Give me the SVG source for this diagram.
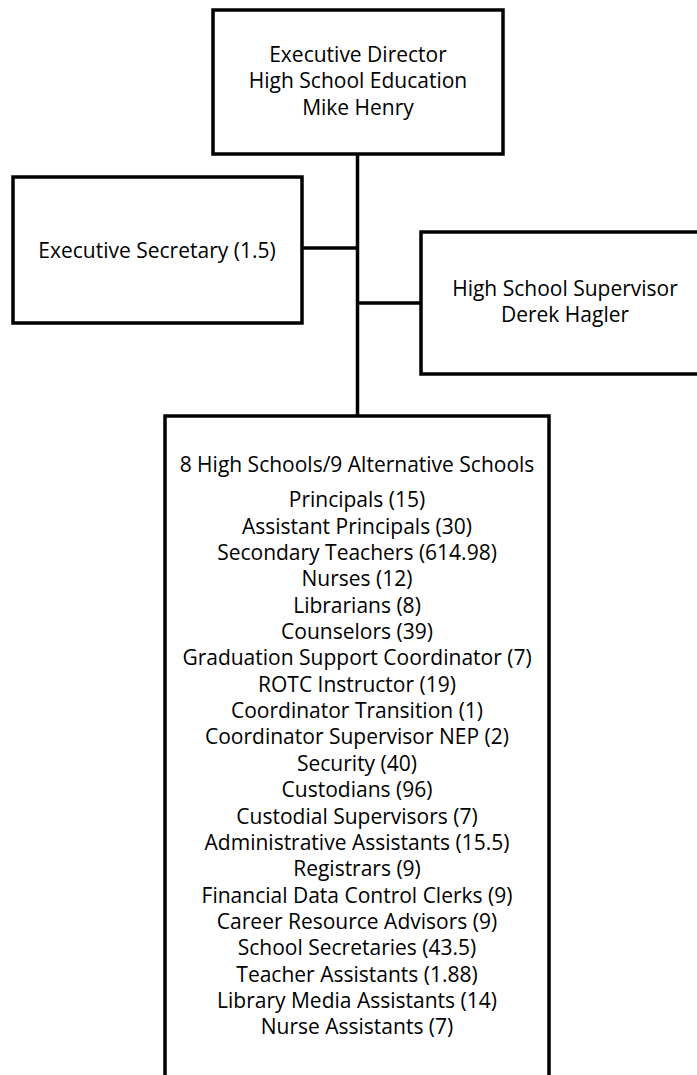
<svg xmlns="http://www.w3.org/2000/svg" width="697" height="1075" viewBox="0 0 697 1075">
<style>
.box{fill:#fff;stroke:#000;stroke-width:3.5}
.conn{fill:none;stroke:#000;stroke-width:3.5}
text{font-family:"Open Sans",Lato,sans-serif;font-size:21px;fill:#000;text-anchor:middle}
</style>
<rect width="697" height="1075" fill="#fff"/>
<g id="connectors">
<line class="conn" x1="357.5" y1="154" x2="357.5" y2="416"/>
<line class="conn" x1="302" y1="248" x2="357.5" y2="248"/>
<line class="conn" x1="357.5" y1="303" x2="421" y2="303"/>
</g>
<g id="exec-director">
<rect class="box" x="213" y="10" width="290" height="144"/>
<text x="358" y="62">Executive Director</text>
<text x="358" y="88.35">High School Education</text>
<text x="358" y="114.7">Mike Henry</text>
</g>
<g id="exec-secretary">
<rect class="box" x="13" y="177" width="289" height="146"/>
<text x="157" y="258">Executive Secretary (1.5)</text>
</g>
<g id="hs-supervisor">
<rect class="box" x="421" y="232" width="300" height="142"/>
<text x="565" y="296">High School Supervisor</text>
<text x="565" y="322.35">Derek Hagler</text>
</g>
<g id="schools">
<rect class="box" x="165" y="416" width="384" height="700"/>
<text x="357" y="471.7">8 High Schools/9 Alternative Schools</text>
<text x="357" y="507.3">Principals (15)</text>
<text x="357" y="533.65">Assistant Principals (30)</text>
<text x="357" y="560">Secondary Teachers (614.98)</text>
<text x="357" y="586.35">Nurses (12)</text>
<text x="357" y="612.7">Librarians (8)</text>
<text x="357" y="639.05">Counselors (39)</text>
<text x="357" y="665.4">Graduation Support Coordinator (7)</text>
<text x="357" y="691.75">ROTC Instructor (19)</text>
<text x="357" y="718.1">Coordinator Transition (1)</text>
<text x="357" y="744.45">Coordinator Supervisor NEP (2)</text>
<text x="357" y="770.8">Security (40)</text>
<text x="357" y="797.15">Custodians (96)</text>
<text x="357" y="823.5">Custodial Supervisors (7)</text>
<text x="357" y="849.85">Administrative Assistants (15.5)</text>
<text x="357" y="876.2">Registrars (9)</text>
<text x="357" y="902.55">Financial Data Control Clerks (9)</text>
<text x="357" y="928.9">Career Resource Advisors (9)</text>
<text x="357" y="955.25">School Secretaries (43.5)</text>
<text x="357" y="981.6">Teacher Assistants (1.88)</text>
<text x="357" y="1007.95">Library Media Assistants (14)</text>
<text x="357" y="1034.3">Nurse Assistants (7)</text>
</g>
</svg>
